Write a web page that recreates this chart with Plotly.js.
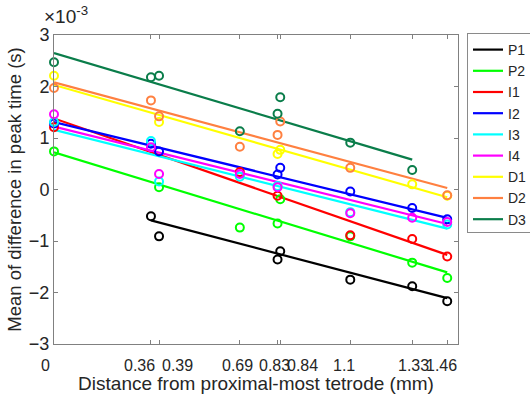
<!DOCTYPE html>
<html>
<head>
<meta charset="utf-8">
<script src="https://cdn.plot.ly/plotly-3.0.1.min.js"></script>
<style>html,body{margin:0;padding:0;background:#fff;}#chart{width:530px;height:400px;}</style>
</head>
<body>
<div id="chart"></div>
<script>
// Values in units of 1e-3 s
const seriesNames = ["P1", "P2", "I1", "I2", "I3", "I4", "D1", "D2", "D3"];

const xP1 = [0.36, 0.39, 0.83, 0.84, 1.1, 1.33, 1.46];
const yP1 = [-0.52, -0.91, -1.36, -1.20, -1.75, -1.88, -2.17];
const xP2 = [0, 0.39, 0.69, 0.83, 0.84, 1.1, 1.33, 1.46];
const yP2 = [0.74, 0.045, -0.74, -0.66, -0.19, -0.91, -1.42, -1.72];
const xI1 = [0, 0.69, 0.83, 1.1, 1.33, 1.46];
const yI1 = [1.21, 0.34, -0.12, -0.89, -0.96, -1.30];
const xI2 = [0, 0.36, 0.39, 0.83, 0.84, 1.1, 1.33, 1.46];
const yI2 = [1.28, 0.89, 0.74, 0.29, 0.42, -0.04, -0.36, -0.58];
const xI3 = [0, 0.36, 0.39, 0.69, 0.83, 1.1, 1.46];
const yI3 = [1.31, 0.94, 0.155, 0.25, 0.07, -0.44, -0.68];
const xI4 = [0, 0.36, 0.39, 0.69, 0.83, 1.1, 1.33, 1.46];
const yI4 = [1.46, 0.82, 0.30, 0.30, 0.045, -0.46, -0.55, -0.63];
const xD1 = [0, 0.39, 0.83, 0.84, 1.33, 1.46];
const yD1 = [2.21, 1.31, 0.69, 0.77, 0.10, -0.12];
const xD2 = [0, 0.36, 0.39, 0.69, 0.83, 0.84, 1.1, 1.46];
const yD2 = [1.97, 1.73, 1.42, 0.83, 1.06, 1.32, 0.42, -0.11];
const xD3 = [0, 0.36, 0.39, 0.69, 0.83, 0.84, 1.1, 1.33];
const yD3 = [2.47, 2.18, 2.21, 1.13, 1.47, 1.79, 0.91, 0.38];

// Fitted line end points
const fitXStart = [0.36, 0, 0, 0, 0, 0, 0, 0, 0];
const fitXEnd   = [1.46, 1.46, 1.46, 1.46, 1.46, 1.46, 1.46, 1.46, 1.33];
const fitYStart = [-0.60, 0.72, 1.38, 1.31, 1.16, 1.22, 2.03, 2.08, 2.65];
const fitYEnd   = [-2.11, -1.61, -1.27, -0.55, -0.76, -0.67, -0.15, 0.03, 0.58];

const xTickVals = [0, 0.36, 0.39, 0.69, 0.83, 0.84, 1.1, 1.33, 1.46];
const xTickText = ["0", "0.36", "0.39", "0.69", "0.83", "0.84", "1.1", "1.33", "1.46"];
const yTickVals = [-3, -2, -1, 0, 1, 2, 3];
const xRange = [0, 1.5];

// layout: where each x tick label sits (axis units), as drawn in the picture
const xLabelPos = [-0.033, 0.319, 0.457, 0.683, 0.817, 0.921, 1.077, 1.333, 1.437];

const colors = ["#000000", "#00ff00", "#ff0000", "#0000ff", "#00ffff", "#ff00ff", "#ffff00", "#ff8040", "#0a7d4a"];
const pointsX = [xP1, xP2, xI1, xI2, xI3, xI4, xD1, xD2, xD3];
const pointsY = [yP1, yP2, yI1, yI2, yI3, yI4, yD1, yD2, yD3];

const FONT = "Liberation Sans, Arial, Helvetica, sans-serif";
const TXT = "#262626";
const traces = [];
seriesNames.forEach((name, i) => {
  traces.push({
    x: [fitXStart[i], fitXEnd[i]], y: [fitYStart[i], fitYEnd[i]],
    type: "scatter", mode: "lines", name: name,
    line: {color: colors[i], width: 2.2}, showlegend: true, hoverinfo: "skip"
  });
});
seriesNames.forEach((name, i) => {
  traces.push({
    x: pointsX[i], y: pointsY[i], type: "scatter", mode: "markers", name: name,
    marker: {symbol: "circle-open", size: 8, color: colors[i], line: {width: 2, color: colors[i]}},
    showlegend: false, cliponaxis: false
  });
});

const annotations = xTickText.map((t, i) => ({
  x: (xLabelPos[i] - xRange[0]) / (xRange[1] - xRange[0]), xref: "paper", y: 0, yref: "paper", yshift: -21,
  text: t, showarrow: false, xanchor: "center", yanchor: "middle",
  font: {family: FONT, size: 16, color: TXT}
}));
annotations.push({
  x: -0.03, xref: "paper", y: 1.064, yref: "paper", xanchor: "left", yanchor: "middle",
  text: "×10<sup>-3</sup>", showarrow: false, font: {family: FONT, size: 19, color: TXT}
});

const layout = {
  width: 530, height: 400,
  margin: {l: 54, r: 72, t: 35, b: 56},
  paper_bgcolor: "#ffffff", plot_bgcolor: "#ffffff",
  font: {family: FONT, color: TXT},
  showlegend: true,
  legend: {
    xref: "container", yref: "container",
    x: 467 / 530, xanchor: "left", y: 1 - 33 / 400, yanchor: "top",
    bordercolor: "#8a8a8a", borderwidth: 1, bgcolor: "#ffffff",
    font: {family: FONT, size: 14, color: TXT}, tracegroupgap: 0
  },
  xaxis: {
    range: xRange, tickmode: "array", tickvals: xTickVals, showticklabels: false, automargin: false,
    ticks: "inside", ticklen: 4, tickcolor: "#808080", showline: true, linecolor: "#808080",
    linewidth: 1, mirror: "ticks", showgrid: false, zeroline: false,
    title: {text: "Distance from proximal-most tetrode (mm)", font: {family: FONT, size: 19, color: TXT}, standoff: 32}
  },
  yaxis: {
    range: [-3, 3], tickmode: "array", tickvals: yTickVals, automargin: false,
    ticks: "inside", ticklen: 4, tickcolor: "#808080", showline: true, linecolor: "#808080",
    linewidth: 1, mirror: "ticks", showgrid: false, zeroline: false,
    tickfont: {family: FONT, size: 18, color: TXT},
    title: {text: "Mean of difference in peak time (s)", font: {family: FONT, size: 18.5, color: TXT}, standoff: 2}
  },
  annotations: annotations
};

Plotly.newPlot("chart", traces, layout, {displayModeBar: false, staticPlot: true});
</script>
</body>
</html>
